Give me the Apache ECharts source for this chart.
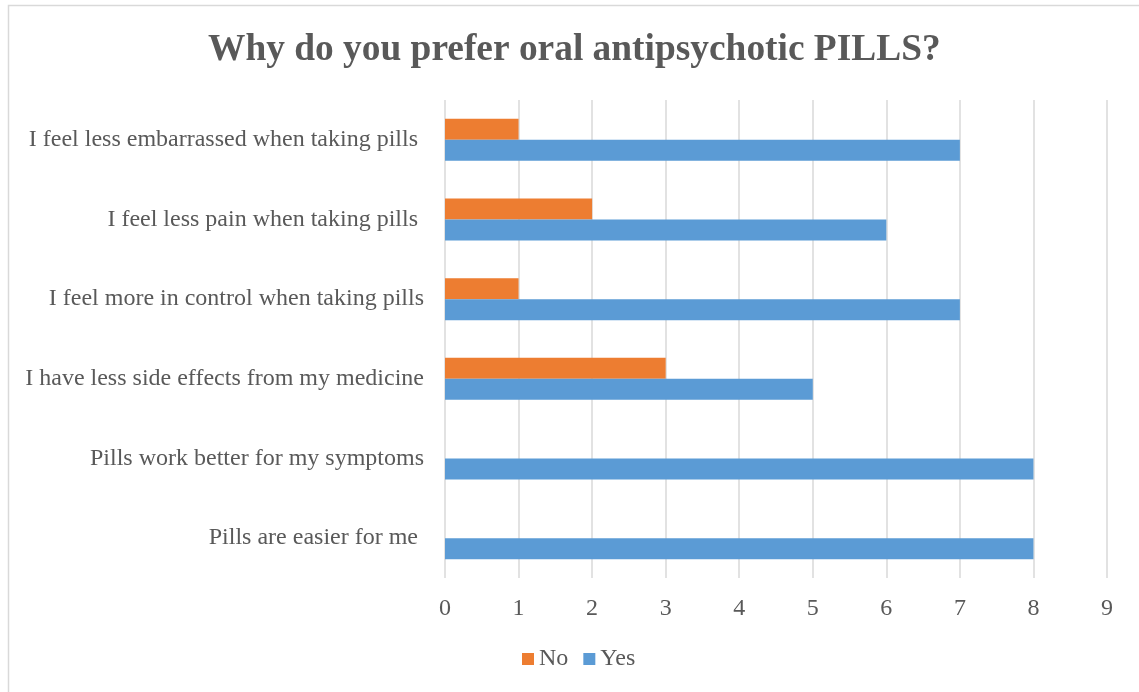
<!DOCTYPE html>
<html>
<head>
<meta charset="utf-8">
<script src="https://cdn.jsdelivr.net/npm/echarts@6/dist/echarts.min.js"></script>
<style>
  html, body { margin: 0; padding: 0; background: #fff; }
  #main { width: 1139px; height: 692px; }
</style>
</head>
<body>
<div id="main"></div>
<script>
// categories listed bottom -> top (y axis category order)
const categories = [
  "Pills are easier for me ",
  "Pills work better for my symptoms",
  "I have less side effects from my medicine",
  "I feel more in control when taking pills",
  "I feel less pain when taking pills ",
  "I feel less embarrassed when taking pills "
];
const yesValues = [8, 8, 5, 7, 6, 7];
const noValues = [0, 0, 3, 1, 2, 1];
const xTicks = [0, 9, 1]; // min, max, interval

const textColor = "#595959";
const font = "'Liberation Serif', 'Times New Roman', serif";

const chart = echarts.init(document.getElementById("main"));

const option = {
  animation: false,
  backgroundColor: "#fff",
  title: {
    text: "Why do you prefer oral antipsychotic PILLS?",
    left: 203,
    top: 27,
    textStyle: {
      color: textColor,
      fontFamily: font,
      fontWeight: "bold",
      fontSize: 37.4
    }
  },
  graphic: [
    {
      type: "rect",
      shape: { x: 8.5, y: 5.5, width: 1150, height: 700 },
      style: { fill: null, stroke: "#d9d9d9", lineWidth: 1.5 },
      silent: true
    }
  ],
  legend: {
    data: ["No", "Yes"],
    bottom: 16,
    left: 517,
    itemWidth: 12,
    itemHeight: 12,
    itemGap: 15,
    icon: "rect",
    textStyle: {
      color: textColor,
      fontFamily: font,
      fontSize: 24
    }
  },
  grid: {
    left: 445,
    right: 32,
    top: 100,
    bottom: 114,
    containLabel: false
  },
  xAxis: {
    type: "value",
    min: xTicks[0],
    max: xTicks[1],
    interval: xTicks[2],
    axisLine: { show: false },
    axisTick: { show: false },
    axisLabel: {
      color: textColor,
      fontFamily: font,
      fontSize: 24,
      margin: 19
    },
    splitLine: {
      show: true,
      lineStyle: { color: "#d9d9d9", width: 1.5 }
    }
  },
  yAxis: {
    type: "category",
    data: categories,
    axisLine: { show: false },
    axisTick: { show: false },
    axisLabel: {
      color: textColor,
      fontFamily: font,
      fontSize: 24,
      margin: 21
    },
    splitLine: { show: false }
  },
  series: [
    {
      name: "No",
      type: "bar",
      data: noValues,
      barWidth: 21,
      barGap: "0%",
      itemStyle: { color: "#ED7D31" }
    },
    {
      name: "Yes",
      type: "bar",
      data: yesValues,
      barWidth: 21,
      barGap: "0%",
      itemStyle: { color: "#5B9BD5" }
    }
  ]
};

chart.setOption(option);
</script>
</body>
</html>
